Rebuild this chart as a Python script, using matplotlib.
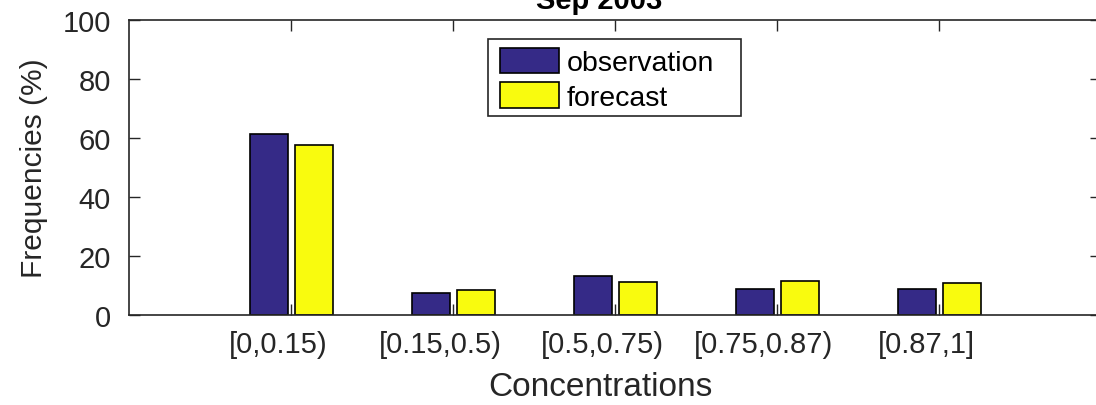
import matplotlib
matplotlib.use("Agg")
import matplotlib.pyplot as plt
import matplotlib.transforms as mtransforms
from matplotlib.patches import Rectangle
import numpy as np

categories = ["[0,0.15)", "[0.15,0.5)", "[0.5,0.75)", "[0.75,0.87)", "[0.87,1]"]
observation = [61.5, 7.6, 13.1, 8.7, 8.9]
forecast = [57.5, 8.5, 11.1, 11.5, 10.9]
title = "Sep 2003"

plt.rcParams['font.family'] = ['Liberation Sans', 'DejaVu Sans']
W, H = 1096, 406
fig = plt.figure(figsize=(W / 100, H / 100), dpi=100)
ax = fig.add_axes([129 / W, 1 - 316 / H, (1101 - 129) / W, (316 - 21) / H])

x = np.arange(1, len(categories) + 1)
bw = 0.235
ax.bar(x - 0.138, observation, bw, color="#352A87", edgecolor="black", linewidth=1.2, label="observation")
ax.bar(x + 0.143, forecast, bw, color="#F9FB0E", edgecolor="black", linewidth=1.2, label="forecast")

ax.set_xlim(0, 6)
ax.set_ylim(0, 100)
ax.set_yticks([0, 20, 40, 60, 80, 100])
ax.set_xticks(x)
ax.set_xticklabels(categories)
ax.tick_params(axis="both", direction="in", length=8, width=1.0, color="#262626",
               labelsize=21, labelcolor="#262626", top=True, right=True)
ax.tick_params(axis="y", pad=13)
ax.tick_params(axis="x", pad=11)
offset = mtransforms.ScaledTranslation(-13 / 100, 0, fig.dpi_scale_trans)
for lab in ax.get_xticklabels():
    lab.set_transform(lab.get_transform() + offset)
for s in ax.spines.values():
    s.set_color("#262626")
    s.set_linewidth(1.2)

fig.text(600 / W, 1 - 396 / H, "Concentrations", ha="center", va="baseline", fontsize=24, color="#262626")
fig.text(34 / W, 1 - 168 / H, "Frequencies (%)", ha="center", va="center", rotation=90, fontsize=21.5, color="#262626")
fig.text(599 / W, 1 - 9 / H, title, ha="center", va="baseline", fontsize=21, fontweight="bold", color="black")

# legend box (MATLAB-style, with wide right margin)
frame = Rectangle((488 / W, 1 - 117 / H), (741 - 488) / W, (117 - 40) / H, transform=fig.transFigure,
                  facecolor="white", edgecolor="#262626", linewidth=1.2, zorder=4.5, clip_on=False)
ax.add_patch(frame)
leg = ax.legend(loc="upper left", bbox_to_anchor=((491 - 129) / (1101 - 129), 1 - (40 - 21) / (316 - 21)),
                fontsize=20.5, frameon=False,
                handlelength=2.1, handleheight=1.02, handletextpad=0.25, labelspacing=0.2,
                borderpad=0.3, borderaxespad=0)
leg.set_zorder(5)

fig.savefig("out.png", dpi=100)
